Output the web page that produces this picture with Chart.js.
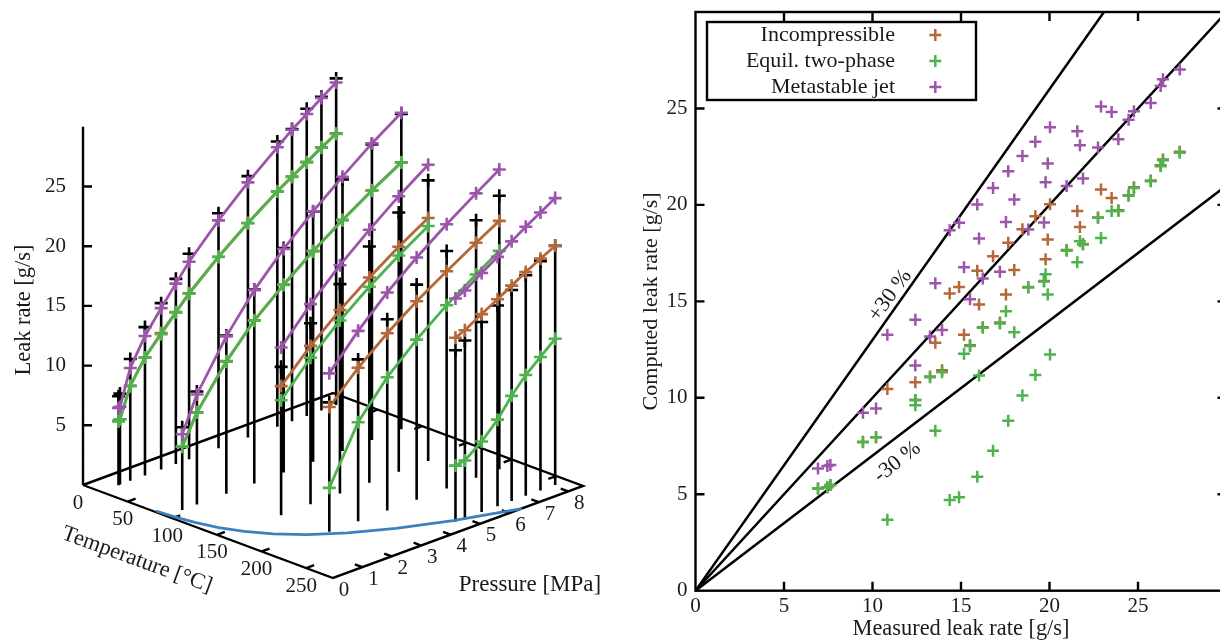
<!DOCTYPE html>
<html>
<head>
<meta charset="utf-8">
<title>Leak rate</title>
<script src="https://cdn.jsdelivr.net/npm/chart.js@4/dist/chart.umd.min.js"></script>
<style>
    html, body { margin: 0; padding: 0; background: #ffffff; overflow: hidden; width: 1220px; height: 643px; }
    canvas { position: absolute; top: 0; }
    #left-chart { left: 0; }
    #right-chart { left: 640px; }
</style>
</head>
<body>
<canvas id="left-chart" width="620" height="643"></canvas>
<canvas id="right-chart" width="600" height="643"></canvas>
<script>
// One entry per temperature level
const curveTemps = [20, 93, 156, 208, 263];
const curvePressures = [
    [0.6, 0.65, 1, 1.5, 2.05, 2.55, 3, 4, 5, 6, 6.5, 7, 7.5, 8],
    [0.55, 1.05, 2.05, 3, 4, 5, 6, 7, 8],
    [2, 3, 4, 5, 6, 7],
    [2.06, 3.04, 4.03, 5.03, 6.05, 7.05, 7.84],
    [4.68, 5, 5.57, 6.11, 6.59, 7.07, 7.57, 8.07]
];
const measured = [
    [7.45, 7.62, 10.2, 12.42, 13.93, 15.51, 17.2, 19.69, 21.89, 23.89, 24.47, 25.72, 26.28, 27.36],
    [6.92, 9.46, 13.25, 16.23, 18.8, 20.97, 22.74, 24.77, 26.41],
    [12.42, 15.17, 17.54, 19.78, 21.72, 23.51],
    [10.84, 13.55, 16.02, 18.01, 19.9, 21.57, 22.91],
    [14.36, 14.89, 15.92, 16.81, 17.67, 18.47, 19.2, 20.03]
];
const incompressible = [
    [5.36, 5.48, 7.95, 9.88, 11.43, 12.72, 13.9, 16.05, 17.97, 19.72, 20.5, 21.27, 22.05, 22.75],
    [5.3, 7.72, 11.1, 13.66, 15.74, 17.66, 19.35, 20.92, 22.36],
    [10.81, 13.27, 15.36, 17.18, 18.86, 20.36],
    [10.45, 12.85, 14.84, 16.62, 18.21, 19.68, 20.8],
    [15.41, 15.74, 16.58, 17.34, 18.04, 18.74, 19.41, 20.04]
];
const equilibrium = [
    [5.36, 5.48, 7.95, 9.88, 11.32, 12.69, 13.85, 16.03, 17.95, 19.69, 20.47, 21.23, 22, 22.7],
    [5.3, 7.7, 11.06, 13.63, 15.72, 17.62, 19.33, 20.88, 22.32],
    [9.62, 12.28, 14.49, 16.41, 18.12, 19.69],
    [3.68, 8.29, 11.16, 13.4, 15.36, 17.03, 18.29],
    [4.7, 4.84, 5.91, 7.25, 8.81, 10.12, 11.18, 12.25]
];
const metastable = [
    [6.46, 6.51, 9.45, 11.68, 13.51, 15.11, 16.53, 19.09, 21.37, 23.4, 24.42, 25.28, 26.17, 27.02],
    [6.34, 9.22, 13.18, 16.19, 18.73, 20.98, 22.97, 24.85, 26.51],
    [14.04, 16.77, 19.12, 21.18, 23.09, 24.82],
    [13.27, 15.94, 18.26, 20.28, 22.14, 23.82, 25.1],
    [18.69, 19.07, 20.02, 20.88, 21.75, 22.54, 23.28, 24.03]
];
// Blue curve on the floor of the 3D box
const satTemps = [80, 100, 120, 140, 160, 180, 200, 220, 240, 260, 280];
const satPressures = [0.05, 0.1, 0.2, 0.36, 0.62, 1, 1.55, 2.32, 3.35, 4.69, 6.42];

const tempTicks = [0, 50, 100, 150, 200, 250];
const pressureTicks = [0, 1, 2, 3, 4, 5, 6, 7, 8];
const rateTicks = [5, 10, 15, 20, 25];
const seriesNames = ["Incompressible", "Equil. two-phase", "Metastable jet"];
const seriesColors = ["#b4683a", "#4db34d", "#9c55ab"];
const seriesValues = [incompressible, equilibrium, metastable];
const ratioFactors = [1.3, 1, 0.7];

const FONT = '"Liberation Serif", serif';
const TEMP_MAX = 280;
const PRESSURE_MAX = 8.5;
const RATE_MAX = 30;

// Oblique projection of the 3D box, in canvas units
function project(temp, pressure, rate) {
    return {
        x: 83 + 250 * (temp / TEMP_MAX + pressure / PRESSURE_MAX),
        y: 485 + 93 * temp / TEMP_MAX - 92 * pressure / PRESSURE_MAX - 11.94 * rate
    };
}

const GAP = { x: NaN, y: NaN };

// Later entries are drawn on top, so the order goes from high to low
function stacked(list) {
    list.forEach((d, i) => { d.order = list.length - i; });
    return list;
}

function lineSet(data, color, width) {
    return { type: "line", data, borderColor: color, borderWidth: width, pointRadius: 0, tension: 0, fill: false };
}

function crossSet(data, color, width, radius, showLine) {
    return {
        type: "line", data, showLine, borderColor: color, borderWidth: 2.8, tension: 0, fill: false,
        pointStyle: "cross", pointRadius: radius, pointBorderColor: color, pointBorderWidth: width
    };
}

function buildBox() {
    const box = [[0, 0], [TEMP_MAX, 0], [TEMP_MAX, PRESSURE_MAX], [0, PRESSURE_MAX], [0, 0]]
        .map(c => project(c[0], c[1], 0));
    box.push(GAP, project(0, 0, 0), project(0, 0, RATE_MAX));
    tempTicks.slice(1).forEach(t => {
        box.push(GAP, project(t, 0, 0), project(t, 0.27, 0));
        box.push(GAP, project(t, PRESSURE_MAX, 0), project(t, PRESSURE_MAX - 0.27, 0));
    });
    pressureTicks.slice(1).forEach(p => {
        box.push(GAP, project(TEMP_MAX, p, 0), project(TEMP_MAX - 8.5, p, 0));
    });
    rateTicks.forEach(r => {
        const a = project(0, 0, r);
        box.push(GAP, a, { x: a.x + 9, y: a.y });
    });
    return box;
}

function buildLeftDatasets() {
    const stems = [];
    const tops = [];
    curveTemps.forEach((t, c) => {
        curvePressures[c].forEach((p, i) => {
            stems.push(project(t, p, 0), project(t, p, measured[c][i]), GAP);
            tops.push(project(t, p, measured[c][i]));
        });
    });
    const list = [
        lineSet(stems, "#000000", 2.6),
        crossSet(tops, "#000000", 2.6, 6.5, false),
        lineSet(buildBox(), "#000000", 2.4),
        lineSet(satTemps.map((t, i) => project(t, satPressures[i], 0)), "#3d80bd", 2.8)
    ];
    seriesValues.forEach((values, s) => {
        curveTemps.forEach((t, c) => {
            const pts = curvePressures[c].map((p, i) => project(t, p, values[c][i]));
            list.push(crossSet(pts, seriesColors[s], 2.6, 6.5, true));
        });
    });
    return stacked(list);
}

function drawText(ctx, text, x, y, size, angle, align) {
    ctx.save();
    ctx.translate(x, y);
    ctx.rotate((angle || 0) * Math.PI / 180);
    ctx.font = size + "px " + FONT;
    ctx.fillStyle = "#1a1a1a";
    ctx.textAlign = align || "center";
    ctx.textBaseline = "middle";
    ctx.fillText(text, 0, 0);
    ctx.restore();
}

// Tick labels and titles around the 3D box
const boxLabels = {
    id: "boxLabels",
    afterDraw(chart) {
        const ctx = chart.ctx;
        rateTicks.forEach(r => {
            const a = project(0, 0, r);
            drawText(ctx, String(r), a.x - 17, a.y, 21, 0, "right");
        });
        tempTicks.forEach(t => {
            const a = project(t, 0, 0);
            drawText(ctx, String(t), a.x - 5, a.y + 18, 21);
        });
        pressureTicks.forEach(p => {
            const a = project(TEMP_MAX, p, 0);
            drawText(ctx, String(p), a.x + 11, a.y + 12, 21);
        });
        drawText(ctx, "Leak rate [g/s]", 24, 310, 22.5, -90);
        drawText(ctx, "Temperature [°C]", 137, 560, 22.5, 20);
        drawText(ctx, "Pressure [MPa]", 530, 585, 23);
    }
};

new Chart(document.getElementById("left-chart"), {
    type: "line",
    plugins: [boxLabels],
    data: { datasets: buildLeftDatasets() },
    options: {
        responsive: false,
        animation: false,
        devicePixelRatio: 1,
        layout: { autoPadding: false },
        scales: {
            x: { type: "linear", display: false, min: 0, max: 620 },
            y: { type: "linear", display: false, min: 0, max: 643, reverse: true }
        },
        plugins: { legend: { display: false }, tooltip: { enabled: false } }
    }
});

function buildRightDatasets() {
    const list = ratioFactors.map(f => {
        const end = f * RATE_MAX > RATE_MAX ? RATE_MAX / f : RATE_MAX;
        return lineSet([{ x: 0, y: 0 }, { x: end, y: end * f }], "#000000", 2.5);
    });
    seriesValues.forEach((values, s) => {
        const pts = measured.flatMap((row, c) => row.map((m, i) => ({ x: m, y: values[c][i] })));
        list.push(crossSet(pts, seriesColors[s], 2.5, 6, false));
    });
    return stacked(list);
}

// Frame, inward ticks, legend box and the two line notes
const frameAndKey = {
    id: "frameAndKey",
    afterDraw(chart) {
        const ctx = chart.ctx;
        const area = chart.chartArea;
        const sx = chart.scales.x;
        const sy = chart.scales.y;
        ctx.save();
        ctx.strokeStyle = "#000000";
        ctx.lineWidth = 2.4;
        ctx.strokeRect(area.left, area.top, area.right - area.left, area.bottom - area.top);
        ctx.beginPath();
        for (let v = 5; v < RATE_MAX; v += 5) {
            const px = sx.getPixelForValue(v);
            const py = sy.getPixelForValue(v);
            ctx.moveTo(px, area.bottom);
            ctx.lineTo(px, area.bottom - 9);
            ctx.moveTo(px, area.top);
            ctx.lineTo(px, area.top + 9);
            ctx.moveTo(area.left, py);
            ctx.lineTo(area.left + 9, py);
            ctx.moveTo(area.right, py);
            ctx.lineTo(area.right - 9, py);
        }
        ctx.stroke();

        // Legend
        ctx.fillStyle = "#ffffff";
        ctx.fillRect(67, 22, 269, 78);
        ctx.strokeRect(67, 22, 269, 78);
        seriesNames.forEach((name, s) => {
            const y = 35 + 26 * s;
            drawText(ctx, name, 255, y, 22, 0, "right");
            ctx.strokeStyle = seriesColors[s];
            ctx.lineWidth = 2.5;
            ctx.beginPath();
            ctx.moveTo(289.3, y);
            ctx.lineTo(301.3, y);
            ctx.moveTo(295.3, y - 6);
            ctx.lineTo(295.3, y + 6);
            ctx.stroke();
        });
        ctx.restore();

        drawText(ctx, "+30 %", sx.getPixelForValue(11), sy.getPixelForValue(15.3), 22, -54);
        drawText(ctx, "-30 %", sx.getPixelForValue(11.4), sy.getPixelForValue(6.67), 22, -38);
    }
};

const hideLast = v => (v === RATE_MAX ? "" : v);

new Chart(document.getElementById("right-chart"), {
    type: "line",
    plugins: [frameAndKey],
    data: { datasets: buildRightDatasets() },
    options: {
        responsive: false,
        animation: false,
        devicePixelRatio: 1,
        layout: { autoPadding: false, padding: { left: 0, right: 13.5, top: 12, bottom: 0 } },
        scales: {
            x: {
                type: "linear",
                min: 0,
                max: RATE_MAX,
                afterFit: s => { s.height = 52.3; s.paddingLeft = 0; s.paddingRight = 0; },
                grid: { display: false, drawTicks: false },
                border: { display: false },
                ticks: { stepSize: 5, padding: 3, autoSkip: false, maxRotation: 0, color: "#1a1a1a", font: { family: FONT, size: 21 }, callback: hideLast },
                title: { display: true, text: "Measured leak rate [g/s]", color: "#1a1a1a", font: { family: FONT, size: 22.4, lineHeight: 1 }, padding: { top: 0, bottom: 3 } }
            },
            y: {
                type: "linear",
                min: 0,
                max: RATE_MAX,
                afterFit: s => { s.width = 55.5; s.paddingTop = 0; s.paddingBottom = 0; },
                grid: { display: false, drawTicks: false },
                border: { display: false },
                ticks: { stepSize: 5, padding: 8, autoSkip: false, color: "#1a1a1a", font: { family: FONT, size: 21 }, callback: hideLast },
                title: { display: true, text: "Computed leak rate [g/s]", color: "#1a1a1a", font: { family: FONT, size: 22, lineHeight: 1 }, padding: { top: 0, bottom: 0 } }
            }
        },
        plugins: { legend: { display: false }, tooltip: { enabled: false } }
    }
});
</script>
</body>
</html>
